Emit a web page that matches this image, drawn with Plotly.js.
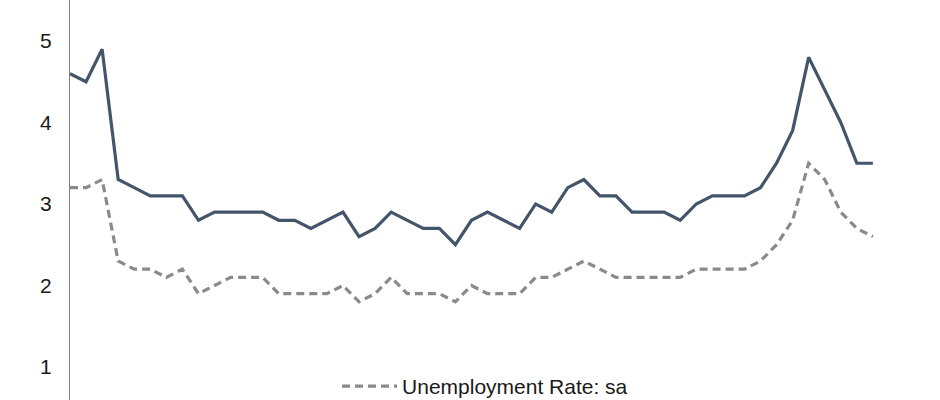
<!DOCTYPE html>
<html>
<head>
<meta charset="utf-8">
<script src="https://cdn.plot.ly/plotly-3.0.1.min.js"></script>
<style>html,body{margin:0;padding:0;background:#fff;}#chart{width:940px;height:400px;}</style>
</head>
<body>
<div id="chart"></div>
<script>
// period index (monthly observations)
var periods = [];
for (var i = 0; i < 51; i++) periods.push(i);

// solid series (not shown in visible legend)
var rateNsa = [4.6,4.5,4.9,3.3,3.2,3.1,3.1,3.1,2.8,2.9,
               2.9,2.9,2.9,2.8,2.8,2.7,2.8,2.9,2.6,2.7,
               2.9,2.8,2.7,2.7,2.5,2.8,2.9,2.8,2.7,3.0,
               2.9,3.2,3.3,3.1,3.1,2.9,2.9,2.9,2.8,3.0,
               3.1,3.1,3.1,3.2,3.5,3.9,4.8,4.4,4.0,3.5,3.5];

// dashed series: Unemployment Rate: sa
var rateSa = [3.2,3.2,3.3,2.3,2.2,2.2,2.1,2.2,1.9,2.0,
              2.1,2.1,2.1,1.9,1.9,1.9,1.9,2.0,1.8,1.9,
              2.1,1.9,1.9,1.9,1.8,2.0,1.9,1.9,1.9,2.1,
              2.1,2.2,2.3,2.2,2.1,2.1,2.1,2.1,2.1,2.2,
              2.2,2.2,2.2,2.3,2.5,2.8,3.5,3.3,2.9,2.7,2.6];

var yTicks = [1,2,3,4,5];
var legendLabel = 'Unemployment Rate: sa';

var font = 'Liberation Sans, Arial, sans-serif';

var traces = [
  {x: periods, y: rateNsa, type: 'scatter', mode: 'lines', showlegend: false,
   line: {color: '#44546A', width: 3.2}, hoverinfo: 'skip'},
  {x: periods, y: rateSa, type: 'scatter', mode: 'lines', name: legendLabel,
   line: {color: '#8A8A8A', width: 3.2, dash: '8px,5px'}, hoverinfo: 'skip'}
];

var layout = {
  width: 940, height: 400,
  margin: {l: 70, r: 35, t: 0, b: 0, pad: 0, autoexpand: false},
  paper_bgcolor: '#ffffff', plot_bgcolor: '#ffffff',
  font: {family: font, size: 21, color: '#1a1a1a'},
  xaxis: {range: [0, 52], showgrid: false, zeroline: false, showline: false,
          showticklabels: false, ticks: ''},
  yaxis: {range: [0.595, 5.503], tickvals: yTicks, ticktext: yTicks.map(String),
          showgrid: false, zeroline: false, showline: true, linecolor: '#7f7f7f', linewidth: 1,
          ticks: '', ticklabelstandoff: 13, tickfont: {family: font, size: 21, color: '#1a1a1a'}},
  showlegend: true,
  legend: {x: 0.3198, y: 0.034, xanchor: 'left', yanchor: 'middle', orientation: 'h',
           bgcolor: 'rgba(0,0,0,0)', itemwidth: 55, font: {family: font, size: 21, color: '#1a1a1a'}}
};

Plotly.newPlot('chart', traces, layout, {staticPlot: true, displayModeBar: false});
</script>
</body>
</html>
